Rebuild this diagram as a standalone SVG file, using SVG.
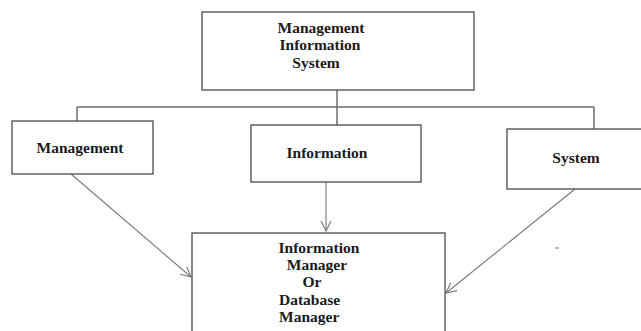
<svg xmlns="http://www.w3.org/2000/svg" width="641" height="331" viewBox="0 0 641 331">
<defs>
<style>
.box{fill:#fff;stroke:#4a4a4a;stroke-width:1.3}
.lbl{font-family:"Liberation Serif","Times New Roman",serif;font-weight:bold;font-size:15.5px;fill:#1a1a1a}
.tree{fill:none;stroke:#6e6e6e;stroke-width:1.5}
.arr{fill:none;stroke:#777;stroke-width:1.1;marker-end:url(#v)}
</style>
<marker id="v" viewBox="0 0 12 12" refX="11" refY="6" markerWidth="12" markerHeight="12" markerUnits="userSpaceOnUse" orient="auto">
<path d="M1,1 L11,6 L1,11" fill="none" stroke="#777" stroke-width="1.1"/>
</marker>
</defs>
<rect width="641" height="331" fill="#fff"/>
<g id="connectors">
<path class="tree" d="M337,90 V125 M77,107 H594 M77,107 V121 M594,107 V129"/>
<line class="arr" x1="71" y1="174" x2="191" y2="277"/>
<line class="arr" x1="326" y1="182" x2="326" y2="231"/>
<line class="arr" x1="575" y1="189" x2="446" y2="293"/>
</g>
<g id="mis">
<rect class="box" x="202" y="12" width="272" height="78"/>
<text class="lbl" x="321" y="33" text-anchor="middle">Management</text>
<text class="lbl" x="320" y="50" text-anchor="middle">Information</text>
<text class="lbl" x="316" y="68" text-anchor="middle">System</text>
</g>
<g id="management">
<rect class="box" x="12" y="121" width="141" height="53"/>
<text class="lbl" x="80" y="153" text-anchor="middle">Management</text>
</g>
<g id="information">
<rect class="box" x="251" y="125" width="170" height="57"/>
<text class="lbl" x="327" y="158" text-anchor="middle">Information</text>
</g>
<g id="system">
<rect class="box" x="507" y="129" width="140" height="60"/>
<text class="lbl" x="576" y="163" text-anchor="middle">System</text>
</g>
<g id="manager">
<rect class="box" x="192" y="233" width="253" height="110"/>
<text class="lbl" x="319" y="253" text-anchor="middle">Information</text>
<text class="lbl" x="317" y="270" text-anchor="middle">Manager</text>
<text class="lbl" x="312" y="287" text-anchor="middle">Or</text>
<text class="lbl" x="279" y="305">Database</text>
<text class="lbl" x="279" y="322">Manager</text>
</g>
<line x1="555" y1="248" x2="559" y2="248" stroke="#888" stroke-width="1.2"/>
</svg>
